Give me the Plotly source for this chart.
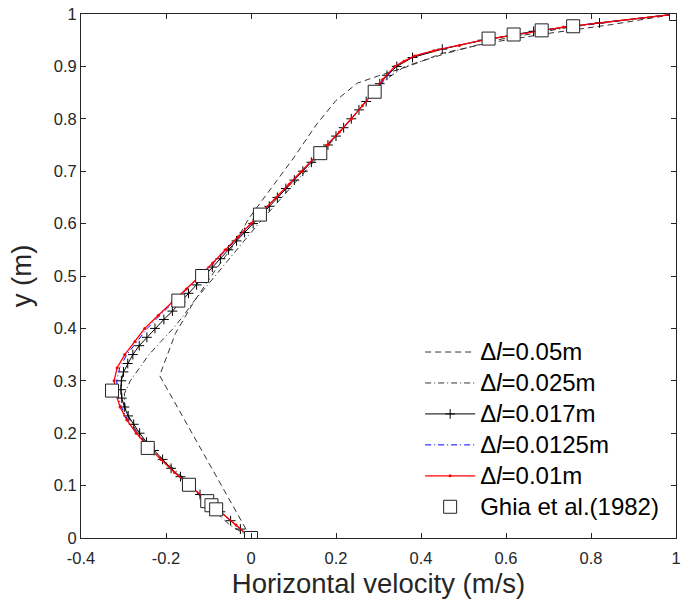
import plotly.graph_objects as go

# ---- Ghia et al. (1982) reference data ----
ghia_y = [1.0, 0.9766, 0.9688, 0.9609, 0.9531, 0.8516, 0.7344, 0.6172, 0.5, 0.4531,
          0.2813, 0.1719, 0.1016, 0.0703, 0.0625, 0.0547, 0.0]
ghia_u = [1.0, 0.758, 0.684, 0.618, 0.559, 0.291, 0.163, 0.021, -0.115, -0.171,
          -0.327, -0.243, -0.146, -0.103, -0.093, -0.082, 0.0]

# ---- dl = 0.05 m (dashed) ----
d05_y = [0.0, 0.31, 0.39, 0.45, 0.51, 0.56, 0.61, 0.67, 0.725, 0.788, 0.835, 0.868,
         0.882, 0.9, 0.925, 0.945, 0.963, 0.98, 1.0]
d05_u = [0.0, -0.215, -0.178, -0.135, -0.085, -0.04, -0.005, 0.05, 0.1, 0.153, 0.2, 0.25,
         0.3, 0.37, 0.45, 0.56, 0.7, 0.85, 1.0]

# ---- dl = 0.025 m (dash-dot) ----
d025_y = [0.0, 0.025, 0.05, 0.075, 0.1, 0.125, 0.15, 0.175, 0.2, 0.225, 0.25, 0.275,
          0.3, 0.325, 0.35, 0.375, 0.4, 0.425, 0.45, 0.475, 0.5, 0.525, 0.55, 0.575,
          0.6, 0.625, 0.65, 0.675, 0.7, 0.725, 0.75, 0.775, 0.8, 0.825, 0.85, 0.875,
          0.9, 0.925, 0.95, 0.975, 1.0]
d025_u = [0.0, -0.05, -0.085, -0.115, -0.142, -0.172, -0.207, -0.24, -0.266, -0.285, -0.296, -0.298,
          -0.284, -0.262, -0.24, -0.212, -0.183, -0.158, -0.136, -0.11, -0.085, -0.06, -0.034, -0.008,
          0.018, 0.045, 0.073, 0.1, 0.128, 0.155, 0.183, 0.21, 0.237, 0.262, 0.287, 0.317,
          0.362, 0.46, 0.575, 0.75, 1.0]

# ---- dl = 0.017 m (solid black with +) ----
d017_y = [0.0, 0.017, 0.033, 0.05, 0.067, 0.083, 0.1, 0.117, 0.133, 0.15, 0.167, 0.183,
          0.2, 0.217, 0.233, 0.25, 0.267, 0.283, 0.3, 0.317, 0.333, 0.35, 0.367, 0.383,
          0.4, 0.417, 0.433, 0.45, 0.467, 0.483, 0.5, 0.517, 0.533, 0.55, 0.567, 0.583,
          0.6, 0.617, 0.633, 0.65, 0.667, 0.683, 0.7, 0.717, 0.733, 0.75, 0.767, 0.783,
          0.8, 0.817, 0.833, 0.85, 0.867, 0.883, 0.9, 0.917, 0.933, 0.95, 0.967, 0.983, 1.0]
d017_u = [0.0, -0.025, -0.048, -0.072, -0.096, -0.12, -0.143, -0.166, -0.188, -0.208, -0.228, -0.246,
          -0.262, -0.276, -0.289, -0.298, -0.304, -0.306, -0.305, -0.3, -0.29, -0.278, -0.263, -0.245,
          -0.226, -0.205, -0.185, -0.166, -0.147, -0.128, -0.11, -0.091, -0.072, -0.053, -0.034, -0.015,
          0.005, 0.024, 0.043, 0.062, 0.082, 0.102, 0.122, 0.142, 0.162, 0.181, 0.2, 0.218,
          0.236, 0.254, 0.271, 0.288, 0.303, 0.32, 0.343, 0.38, 0.45, 0.545, 0.665, 0.82, 1.0]

# ---- dl = 0.0125 m (blue dash-dot) ----
d0125_y = [0.0, 0.025, 0.05, 0.075, 0.1, 0.125, 0.15, 0.175, 0.2, 0.225, 0.25, 0.275,
           0.3, 0.325, 0.35, 0.375, 0.4, 0.425, 0.45, 0.475, 0.5, 0.525, 0.55, 0.575,
           0.6, 0.625, 0.65, 0.675, 0.7, 0.725, 0.75, 0.775, 0.8, 0.825, 0.85, 0.875,
           0.9, 0.91, 0.92, 0.93, 0.94, 0.95, 0.975, 1.0]
d0125_u = [0.0, -0.035, -0.072, -0.108, -0.145, -0.18, -0.212, -0.242, -0.268, -0.29, -0.305, -0.314,
           -0.316, -0.309, -0.292, -0.268, -0.244, -0.214, -0.182, -0.15, -0.118, -0.088, -0.058, -0.029,
           0.001, 0.031, 0.061, 0.091, 0.121, 0.151, 0.181, 0.209, 0.236, 0.262, 0.288, 0.312,
           0.34, 0.36, 0.385, 0.43, 0.49, 0.545, 0.735, 1.0]

# ---- dl = 0.01 m (red solid with dots) ----
d01_y = [0.0, 0.025, 0.05, 0.075, 0.1, 0.125, 0.15, 0.175, 0.2, 0.225, 0.25, 0.275,
         0.3, 0.325, 0.35, 0.375, 0.4, 0.425, 0.45, 0.475, 0.5, 0.525, 0.55, 0.575,
         0.6, 0.625, 0.65, 0.675, 0.7, 0.725, 0.75, 0.775, 0.8, 0.825, 0.85, 0.875,
         0.9, 0.91, 0.92, 0.93, 0.94, 0.95, 0.975, 1.0]
d01_u = [0.0, -0.035, -0.072, -0.108, -0.145, -0.18, -0.212, -0.243, -0.27, -0.292, -0.308, -0.318,
         -0.322, -0.315, -0.297, -0.273, -0.25, -0.218, -0.185, -0.152, -0.12, -0.09, -0.06, -0.03,
         0.0, 0.03, 0.06, 0.09, 0.12, 0.15, 0.18, 0.208, 0.236, 0.262, 0.288, 0.31,
         0.338, 0.36, 0.385, 0.43, 0.49, 0.545, 0.735, 1.0]

x_ticks = [-0.4, -0.2, 0, 0.2, 0.4, 0.6, 0.8, 1]
x_tick_text = ["-0.4", "-0.2", "0", "0.2", "0.4", "0.6", "0.8", "1"]
y_ticks = [0, 0.1, 0.2, 0.3, 0.4, 0.5, 0.6, 0.7, 0.8, 0.9, 1]
y_tick_text = ["0", "0.1", "0.2", "0.3", "0.4", "0.5", "0.6", "0.7", "0.8", "0.9", "1"]

FONT = "Liberation Sans, Arial, sans-serif"
AX = "#262626"


def leg(txt):
    return "<span style='font-size:24px'>" + txt + "</span>"


fig = go.Figure()
fig.add_trace(go.Scatter(x=d05_u, y=d05_y, mode="lines", name=leg("Δ<i>l</i>=0.05m"),
                         line=dict(color="#333333", width=1, dash="6px,4px")))
fig.add_trace(go.Scatter(x=d025_u, y=d025_y, mode="lines", name=leg("Δ<i>l</i>=0.025m"),
                         line=dict(color="#333333", width=1, dash="6px,3px,1px,3px")))
fig.add_trace(go.Scatter(x=d017_u, y=d017_y, mode="lines+markers", name=leg("Δ<i>l</i>=0.017m"),
                         line=dict(color="black", width=1),
                         marker=dict(symbol="cross-thin", size=7, color="black",
                                     line=dict(color="black", width=1))))
fig.add_trace(go.Scatter(x=d0125_u, y=d0125_y, mode="lines", name=leg("Δ<i>l</i>=0.0125m"),
                         line=dict(color="blue", width=1, dash="6px,3px,1px,3px")))
fig.add_trace(go.Scatter(x=d01_u, y=d01_y, mode="lines+markers", name=leg("Δ<i>l</i>=0.01m"),
                         line=dict(color="red", width=1.3),
                         marker=dict(symbol="circle", size=3, color="red")))
fig.add_trace(go.Scatter(x=ghia_u, y=ghia_y, mode="markers", name=leg("Ghia et al.(1982)"),
                         marker=dict(symbol="square", size=13, color="white",
                                     line=dict(color="#222222", width=1))))

axis_common = dict(showgrid=False, zeroline=False, showline=True, linecolor=AX, linewidth=1,
                   mirror="ticks", ticks="inside", ticklen=5, tickcolor=AX,
                   ticklabeloverflow="allow",
                   tickfont=dict(family=FONT, size=16.5, color=AX))
fig.update_xaxes(range=[-0.4, 1], tickvals=x_ticks, ticktext=x_tick_text,
                 ticklabelstandoff=5,
                 title=dict(text="Horizontal velocity (m/s)", font=dict(family=FONT, size=27.5, color=AX),
                            standoff=7),
                 **axis_common)
fig.update_yaxes(range=[0, 1], tickvals=y_ticks, ticktext=y_tick_text,
                 title=dict(text="y (m)", font=dict(family=FONT, size=27.5, color=AX), standoff=14),
                 **axis_common)

fig.update_layout(
    width=685, height=607,
    margin=dict(l=81, r=4, t=14, b=69),
    plot_bgcolor="white", paper_bgcolor="white",
    font=dict(family=FONT, color=AX),
    legend=dict(x=0.57, y=0.394, xanchor="left", yanchor="top",
                bgcolor="rgba(255,255,255,0)", borderwidth=0,
                itemwidth=50,
                font=dict(family=FONT, size=21.5, color="black"),
                tracegroupgap=0),
)

fig.write_html("out.html")
